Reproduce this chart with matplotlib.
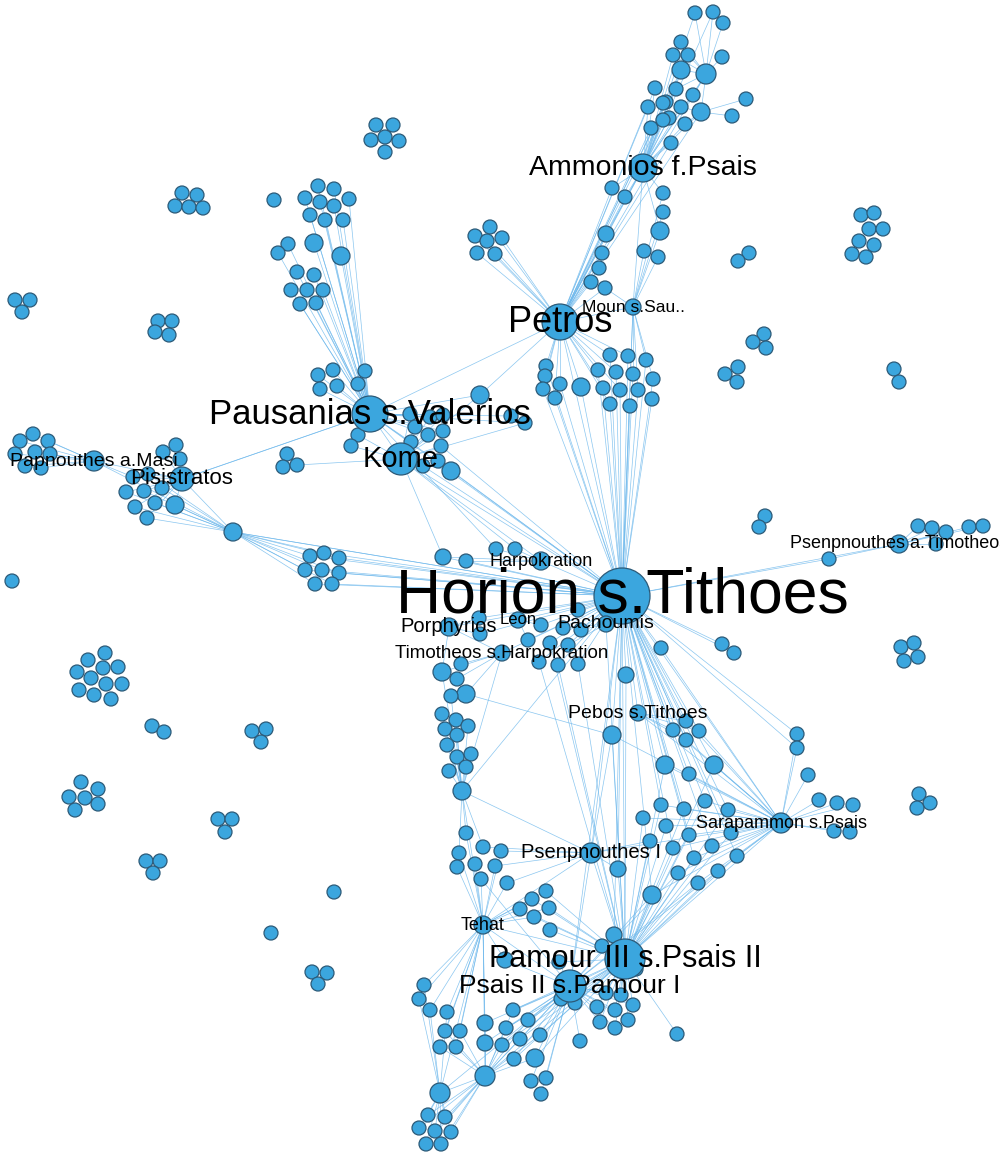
import matplotlib
matplotlib.use("Agg")
import matplotlib.pyplot as plt
from matplotlib.collections import LineCollection

plt.rcParams['font.family'] = ['Liberation Sans', 'DejaVu Sans']

# hubs: key -> (x, y, radius) in picture pixels
hubs = {
    "H": (622, 596, 28), "PE": (560, 322, 18), "PA": (370, 414, 18), "K": (401, 459, 16),
    "AM": (643, 168, 14), "MO": (633, 307, 8), "PI": (182, 479, 12), "PAP": (94, 461, 10),
    "HA": (541, 561, 9), "PO": (449, 627, 9), "LE": (518, 620, 8), "PC": (606, 624, 8),
    "TI": (502, 653, 8), "PB": (638, 713, 8), "SA": (781, 823, 10), "PS1": (591, 853, 10),
    "TE": (483, 925, 9), "PM": (625, 959, 20), "PS2": (570, 986, 16), "PT": (899, 544, 9),
    "T1": (706, 74, 10), "T2": (701, 112, 9), "C1": (233, 532, 9), "C2": (462, 791, 9),
    "C3": (612, 735, 9), "C4": (440, 1093, 10), "C5": (485, 1076, 10),
}
hub_links = {
    "H": "PE MO PA K C1 HA PM PS2 SA PS1", "PE": "PA MO AM", "PA": "PI", "K": "PA",
    "AM": "MO", "MO": "H", "PI": "C1 PA", "PAP": "PI C1", "HA": "K", "PO": "H TI",
    "LE": "H", "PC": "H PM", "TI": "H", "PB": "H SA", "SA": "PM PS1", "PS1": "PM PS2 TE",
    "TE": "PM PS2 C4 C5", "PM": "PS2", "PT": "H", "T1": "AM PE T2", "T2": "AM PE",
    "C1": "H", "C2": "TI TE PS1 H", "C3": "H PS1 PM SA", "C4": "PS2", "C5": "PS2 PM C4",
}

# labels: hub key -> (text, font size)
labels = {
    "H": ("Horion s.Tithoes", 45), "PE": ("Petros", 26), "PA": ("Pausanias s.Valerios", 25),
    "K": ("Kome", 21), "AM": ("Ammonios f.Psais", 20.5), "MO": ("Moun s.Sau..", 12.5),
    "PI": ("Pisistratos", 16), "PAP": ("Papnouthes a.Masi", 14), "HA": ("Harpokration", 13),
    "PO": ("Porphyrios", 14.5), "LE": ("Leon", 12), "PC": ("Pachoumis", 14),
    "TI": ("Timotheos s.Harpokration", 13.5), "PB": ("Pebos s.Tithoes", 14),
    "SA": ("Sarapammon s.Psais", 13), "PS1": ("Psenpnouthes I", 14.5), "TE": ("Tehat", 13),
    "PM": ("Pamour III s.Psais II", 22), "PS2": ("Psais II s.Pamour I", 19),
    "PT": ("Psenpnouthes a.Timotheos", 13),
}

# other nodes: (x, y, radius, linked hubs)
top_nodes = [
    (695, 13, 7, "T1 AM"), (713, 12, 7, "T1 AM"), (723, 23, 7, "T1"), (681, 42, 7, "T1 AM"),
    (673, 55, 7, "T1 AM"), (688, 55, 7, "T1 AM"), (681, 70, 9, "T1 AM PE"), (722, 57, 7, "T1"),
    (676, 89, 7, "T1 AM PE"), (693, 95, 7, "T1 AM"), (666, 102, 7, "AM PE"), (681, 107, 7, "T2 AM"),
    (669, 118, 7, "AM PE"), (685, 124, 7, "T2 AM"), (671, 143, 7, "AM PE"), (655, 88, 7, "AM PE"),
    (648, 107, 7, "AM PE"), (663, 103, 7, "AM"), (651, 128, 7, "AM PE"), (663, 120, 7, "AM"),
    (746, 99, 7, "T2"), (732, 116, 7, "T2"),
    (612, 188, 7, "AM PE"), (625, 197, 7, "AM PE"), (606, 234, 8, "PE AM"), (602, 253, 7, "PE"),
    (599, 268, 7, "PE"), (591, 282, 7, "PE"), (605, 288, 7, "PE MO"),
    (663, 193, 7, "AM MO"), (663, 212, 7, "MO"), (660, 231, 9, "MO AM"), (644, 251, 7, "MO"),
    (658, 257, 7, "MO"),
    (490, 227, 7, "PE"), (475, 236, 7, "PE"), (487, 241, 7, "PE"), (502, 238, 7, "PE"),
    (477, 253, 7, "PE"), (495, 254, 7, "PE"),
]
petros_nodes = [
    (610, 355, 7, "PE H"), (628, 356, 7, "PE H"), (646, 360, 7, "MO H"), (598, 370, 7, "PE H"),
    (616, 372, 7, "PE H"), (633, 374, 7, "MO H"), (653, 379, 7, "MO H"), (603, 388, 7, "PE H"),
    (620, 390, 7, "PE H"), (638, 390, 7, "MO H"), (652, 399, 7, "H"), (610, 404, 7, "PE H"),
    (630, 406, 7, "H"),
    (546, 366, 7, "PE H"), (545, 376, 7, "PE"), (543, 389, 7, "PE H"), (560, 384, 7, "PE H"),
    (555, 398, 7, "PE H"), (581, 387, 9, "PE H"),
    (480, 395, 9, "PA PE K"), (511, 416, 7, "PA"), (525, 423, 7, "PA K"),
]
pausanias_nodes = [
    (318, 186, 7, "PA"), (334, 189, 7, "PA"), (349, 199, 7, "PA"), (305, 198, 7, "PA"),
    (320, 202, 7, "PA"), (334, 206, 7, "PA"), (310, 215, 7, "PA"), (325, 220, 7, "PA"),
    (343, 220, 7, "PA"), (314, 243, 9, "PA"), (341, 256, 9, "PA"), (288, 244, 7, "PA"),
    (278, 253, 7, "PA"), (297, 272, 7, "PA"), (314, 275, 7, "PA"), (291, 290, 7, "PA"),
    (307, 290, 7, "PA"), (323, 290, 7, "PA"), (300, 304, 7, "PA"), (316, 303, 7, "PA"),
    (318, 375, 7, "PA"), (320, 389, 7, "PA"), (333, 370, 7, "PA"), (337, 386, 7, "PA"),
    (365, 371, 7, "PA"), (358, 384, 7, "PA"),
    (410, 414, 7, "PA K"), (430, 417, 7, "PA K"), (415, 427, 7, "PA K"), (443, 415, 7, "PA K"),
    (428, 435, 7, "PA K"), (443, 431, 7, "PA K"), (411, 442, 7, "PA K"), (441, 446, 7, "K H"),
    (423, 466, 7, "K H"), (438, 461, 7, "K H"), (358, 435, 7, "PA K"), (351, 446, 7, "PA K"),
    (451, 471, 9, "K H PA"),
]
west_nodes = [
    (176, 445, 7, "PI"), (163, 452, 7, "PI"), (180, 459, 7, "PI"), (133, 477, 7, "PI PAP"),
    (148, 474, 7, "PI C1"), (126, 492, 7, "PI C1"), (144, 491, 7, "PI C1"), (162, 488, 7, "PI C1"),
    (135, 507, 7, "PI C1"), (155, 503, 7, "PI C1"), (175, 505, 9, "PI C1"), (147, 518, 7, "PI C1"),
    (20, 441, 7, "PAP"), (33, 434, 7, "PAP"), (48, 441, 7, "PAP"), (15, 454, 7, "PAP"),
    (35, 452, 7, "PAP"), (50, 454, 7, "PAP"), (25, 466, 7, "PAP"), (41, 468, 7, "PAP"),
    (287, 454, 7, ""), (283, 467, 7, ""), (297, 465, 7, "K"),
    (310, 556, 7, "C1 H"), (324, 553, 7, "C1 H"), (339, 558, 7, "C1 H"), (305, 570, 7, "C1 H"),
    (322, 570, 7, "C1 H"), (339, 573, 7, "C1 H"), (315, 584, 7, "C1 H"), (332, 584, 7, "C1 H"),
]
center_nodes = [
    (443, 557, 8, "HA K H"), (466, 561, 7, "HA H"), (496, 549, 7, "HA PA"), (515, 549, 7, "HA K"),
    (479, 618, 7, "H PO"), (480, 634, 7, "H PO"), (541, 625, 7, "H LE"), (563, 628, 7, "H PC"),
    (578, 610, 7, "H"), (581, 630, 7, "H PC"), (528, 640, 7, "H LE"), (550, 643, 7, "H PM"),
    (568, 645, 7, "H PC"), (539, 662, 7, "H PM"), (558, 665, 7, "H PM"), (578, 664, 7, "H PM"),
    (626, 675, 8, "H PM"), (661, 648, 7, "H SA"), (722, 644, 7, "H"), (734, 653, 7, "H"),
    (442, 672, 9, "TI PO C2"), (461, 664, 7, "TI"), (457, 679, 7, "TI"), (466, 694, 9, "TI C3"),
    (451, 696, 7, "C2"), (442, 714, 7, "C2"), (456, 720, 7, "C2"), (468, 726, 7, "C2"),
    (445, 729, 7, "C2"), (457, 735, 7, "C2"), (447, 745, 7, "C2"), (471, 754, 7, "C2"),
    (457, 757, 7, "C2"), (466, 767, 7, "C2"), (449, 771, 7, "C2"),
    (466, 833, 7, "C2 TE"), (483, 847, 7, "C2 PS1"), (501, 851, 7, "PS1 TE"), (459, 853, 7, "C2 TE"),
    (475, 864, 7, "TE"), (495, 866, 7, "TE PS1"), (457, 867, 7, "TE"), (481, 879, 7, "TE PS2"),
    (507, 883, 7, "TE PS1"),
]
east_nodes = [
    (686, 721, 7, "H PB SA"), (673, 730, 7, "H PB SA"), (699, 731, 7, "H PB SA"), (686, 740, 7, "H PB SA"),
    (665, 765, 9, "H SA PM"), (714, 765, 9, "H SA PM"), (689, 774, 7, "H SA"), (643, 818, 7, "SA PM"),
    (650, 841, 7, "PS1 PM"), (661, 805, 7, "H SA PM"), (666, 826, 7, "SA PM"), (684, 809, 7, "H SA PM"),
    (705, 801, 7, "H SA PM"), (728, 810, 7, "H SA PM"), (689, 835, 7, "H SA PM"), (731, 833, 7, "H SA PM"),
    (673, 848, 7, "H SA PM"), (712, 846, 7, "H SA PM"), (694, 858, 7, "H SA PM"), (737, 856, 7, "H SA PM"),
    (678, 873, 7, "SA PM PS2"), (698, 883, 7, "SA PM PS2"), (718, 871, 7, "SA PM PS2"),
    (618, 869, 8, "PS1 PM H"), (652, 895, 9, "PM PS2 H SA"),
    (797, 734, 7, "SA H"), (797, 748, 7, "SA H"), (808, 775, 7, "SA"), (819, 800, 7, "SA"),
    (837, 803, 7, "SA"), (853, 805, 7, "SA"), (834, 831, 7, "SA"), (850, 832, 7, "SA"),
    (829, 559, 7, "H PT"), (918, 526, 7, "PT"), (932, 528, 7, "PT"), (946, 532, 7, "PT"),
    (936, 544, 7, "PT"), (969, 527, 7, "PT"), (983, 526, 7, "PT"),
]
south_nodes = [
    (532, 899, 7, "PM TE"), (546, 891, 7, "PM TE"), (520, 909, 7, "PM TE"), (549, 908, 7, "PM TE"),
    (534, 917, 7, "PM TE"), (550, 930, 7, "PM"), (614, 935, 8, "PM H"), (602, 946, 7, "PM"),
    (505, 960, 8, "TE PS2"), (559, 962, 7, "PS2 PM"), (636, 969, 7, "PM"),
    (561, 999, 7, "PS2 PM"), (575, 1003, 7, "PS2 PM"), (606, 993, 7, "PM PS2"), (621, 995, 7, "PM PS2"),
    (597, 1007, 7, "PM PS2"), (615, 1010, 7, "PM PS2"), (633, 1005, 7, "PM PS2"), (600, 1022, 7, "PM PS2"),
    (615, 1028, 7, "PM PS2"), (628, 1020, 7, "PM PS2"), (580, 1041, 7, "PS2"), (677, 1034, 7, "PM"),
    (424, 985, 7, "TE C4"), (419, 999, 7, "TE C4"), (430, 1010, 7, "TE C4"), (447, 1012, 7, "TE C4"),
    (445, 1031, 7, "C5 TE"), (460, 1031, 7, "C5 TE"), (440, 1047, 7, "C5 TE"), (456, 1047, 7, "C5 TE"),
    (485, 1023, 8, "TE PS2 C5"), (485, 1043, 8, "TE PS2 C5"),
    (513, 1010, 7, "PS2 PM C5"), (528, 1020, 7, "PS2 PM C5"), (506, 1028, 7, "PS2 PM C5"),
    (520, 1039, 7, "PS2 PM C5"), (540, 1035, 7, "PS2 PM C5"), (502, 1045, 7, "PS2 PM C5"),
    (514, 1059, 7, "PS2 PM C5"), (535, 1058, 9, "PS2 PM C5"),
    (531, 1081, 7, "PS2"), (546, 1078, 7, "PS2"), (541, 1094, 7, "PS2"),
    (428, 1115, 7, "C4 C5"), (445, 1117, 7, "C4 C5"), (419, 1128, 7, "C4 C5"), (435, 1131, 7, "C4 C5"),
    (451, 1132, 7, "C4 C5"), (426, 1144, 7, "C4 C5"), (441, 1144, 7, "C4 C5"),
]
# small groups with no link to the big network
isolated_nodes = [
    (182, 193), (197, 195), (175, 206), (189, 207), (203, 208), (274, 200),
    (376, 125), (393, 125), (371, 140), (385, 137), (399, 141), (385, 152),
    (861, 215), (874, 213), (869, 229), (883, 229), (859, 241), (874, 245), (852, 254), (866, 257),
    (749, 253), (738, 261), (15, 300), (30, 300), (22, 312),
    (158, 321), (172, 321), (155, 332), (169, 335),
    (764, 334), (753, 342), (766, 348), (738, 367), (725, 374), (737, 382),
    (894, 369), (899, 382), (765, 516), (759, 527), (12, 581),
    (105, 653), (88, 660), (103, 668), (118, 667), (77, 672), (91, 678), (106, 684), (122, 684),
    (79, 690), (94, 695), (111, 699), (152, 726), (164, 732),
    (252, 731), (266, 729), (261, 742),
    (81, 782), (98, 789), (69, 797), (85, 798), (98, 804), (75, 810),
    (218, 819), (232, 819), (225, 832), (146, 861), (160, 861), (153, 873),
    (271, 933), (334, 892), (312, 972), (327, 973), (318, 984),
    (901, 647), (914, 643), (904, 661), (918, 657), (919, 794), (930, 803), (917, 808),
]

linked = top_nodes + petros_nodes + pausanias_nodes + west_nodes + center_nodes + east_nodes + south_nodes

segments = []
for x, y, r, links in linked:
    for k in links.split():
        segments.append([(x, y), hubs[k][:2]])
for k, links in hub_links.items():
    for t in links.split():
        segments.append([hubs[k][:2], hubs[t][:2]])

fig = plt.figure(figsize=(10, 11.54), dpi=100)
ax = fig.add_axes([0, 0, 1, 1])
ax.set_xlim(0, 1000)
ax.set_ylim(1154, 0)
ax.axis("off")

ax.add_collection(LineCollection(segments, colors="#6db8ec", linewidths=0.5, alpha=0.8, zorder=1))

px = 0.72  # points per pixel
nx = [n[0] for n in linked] + [n[0] for n in isolated_nodes]
ny = [n[1] for n in linked] + [n[1] for n in isolated_nodes]
nr = [n[2] for n in linked] + [7] * len(isolated_nodes)
ax.scatter(nx, ny, s=[(2 * r * px) ** 2 for r in nr], c="#3ba6de",
           edgecolors="#2c5a78", linewidths=0.9, zorder=2)
hx = [v[0] for v in hubs.values()]
hy = [v[1] for v in hubs.values()]
hr = [v[2] for v in hubs.values()]
ax.scatter(hx, hy, s=[(2 * r * px) ** 2 for r in hr], c="#3ba6de",
           edgecolors="#2c5a78", linewidths=0.9, zorder=3)

for k, (txt, fs) in labels.items():
    x, y, _ = hubs[k]
    ax.text(x, y, txt, fontsize=fs, ha="center", va="center", color="black", zorder=4)

fig.savefig("out.png", dpi=100)
